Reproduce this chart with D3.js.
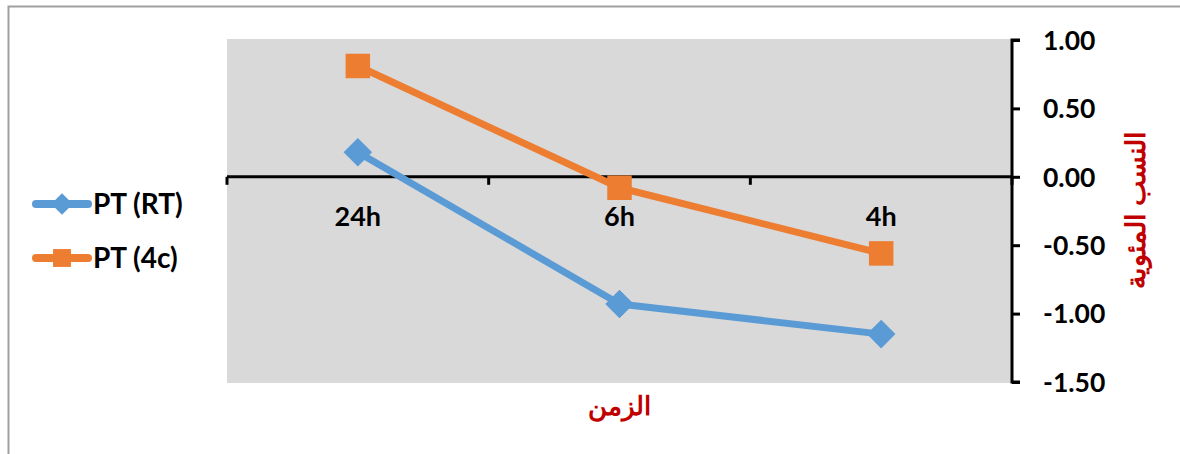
<!DOCTYPE html>
<html>
<head>
<meta charset="utf-8">
<script src="https://cdn.jsdelivr.net/npm/d3@7"></script>
<style>
  html, body { margin: 0; padding: 0; background: #fff; }
  svg { display: block; }
  text { font-family: "Lato", "Open Sans", sans-serif; font-weight: bold; }
</style>
</head>
<body>
<svg id="chart" width="1180" height="454"></svg>
<script>
// Time points (category axis) and the two series, in percent
const categories = ["24h", "6h", "4h"];
const seriesNames = ["PT (RT)", "PT (4c)"];
const ptRT = [0.18, -0.93, -1.15];
const pt4c = [0.81, -0.08, -0.56];
const yTicks = [1.0, 0.5, 0.0, -0.5, -1.0, -1.5];
const xTitle = "الزمن";
const yTitle = "النسب المئوية";

const colors = ["#5b9bd5", "#ed7d31"];
const svg = d3.select("#chart");

// Outer chart border
svg.append("rect")
  .attr("x", 8.5).attr("y", 6.5).attr("width", 1200).attr("height", 470)
  .attr("fill", "none").attr("stroke", "#a0a0a0").attr("stroke-width", 2);

const plot = { left: 227, right: 1012, top: 39, bottom: 383 };

const x = d3.scaleBand().domain(categories).range([plot.left, plot.right]);
const y = d3.scaleLinear().domain([-1.5, 1.0]).range([382, 40]);

// Plot area background
svg.append("rect")
  .attr("x", plot.left).attr("y", plot.top)
  .attr("width", plot.right - plot.left).attr("height", plot.bottom - plot.top)
  .attr("fill", "#d9d9d9");

// Category axis along zero
const xAxisG = svg.append("g").attr("transform", `translate(0,${y(0)})`);
xAxisG.append("line")
  .attr("x1", plot.left).attr("x2", plot.right)
  .attr("stroke", "#000").attr("stroke-width", 3);
const bounds = [plot.left].concat(categories.map(c => x(c) + x.bandwidth()));
xAxisG.selectAll("line.tick").data(bounds).join("line")
  .attr("class", "tick")
  .attr("x1", d => d).attr("x2", d => d)
  .attr("y1", 0).attr("y2", 8)
  .attr("stroke", "#000").attr("stroke-width", 3);
xAxisG.selectAll("text").data(categories).join("text")
  .attr("x", d => x(d) + x.bandwidth() / 2)
  .attr("y", 49)
  .attr("text-anchor", "middle")
  .attr("font-size", 27)
  .attr("fill", "#000")
  .text(d => d);

// Value axis on the right
const yAxis = d3.axisRight(y).tickValues(yTicks).tickSize(8).tickFormat(d3.format(".2f"));
const yAxisG = svg.append("g").attr("transform", `translate(${plot.right},0)`).call(yAxis);
yAxisG.select(".domain").attr("stroke", "#000").attr("stroke-width", 3)
  .attr("d", `M8,${y(1.0)}H0V${y(-1.5)}H8`);
yAxisG.selectAll(".tick line").attr("stroke", "#000").attr("stroke-width", 3);
yAxisG.selectAll(".tick text")
  .attr("x", 31).attr("dy", "0.35em")
  .attr("font-size", 26.5)
  .attr("font-family", "Lato, sans-serif").attr("font-weight", "bold")
  .attr("fill", "#000")
  .text(d => d3.format(".2f")(d).replace("−", "-"));

// Series lines and markers
const allSeries = [ptRT, pt4c];
const line = d3.line().x((d, i) => x(categories[i]) + x.bandwidth() / 2).y(d => y(d));
allSeries.forEach((vals, si) => {
  svg.append("path").datum(vals)
    .attr("d", line)
    .attr("fill", "none").attr("stroke", colors[si])
    .attr("stroke-width", 7).attr("stroke-linejoin", "round").attr("stroke-linecap", "round");
  const sym = si === 0 ? d3.symbol().type(d3.symbolDiamond2).size(520) : d3.symbol().type(d3.symbolSquare).size(600);
  svg.selectAll(null).data(vals).join("path")
    .attr("transform", (d, i) => `translate(${x(categories[i]) + x.bandwidth() / 2},${y(d)})`)
    .attr("d", sym)
    .attr("fill", colors[si]);
});

// Legend
const legend = svg.append("g");
seriesNames.forEach((name, i) => {
  const ly = 204 + i * 54;
  legend.append("line")
    .attr("x1", 36).attr("x2", 88).attr("y1", ly).attr("y2", ly)
    .attr("stroke", colors[i]).attr("stroke-width", 8).attr("stroke-linecap", "round");
  const sym = i === 0 ? d3.symbol().type(d3.symbolDiamond2).size(300) : d3.symbol().type(d3.symbolSquare).size(320);
  legend.append("path").attr("transform", `translate(62,${ly})`).attr("d", sym).attr("fill", colors[i]);
  legend.append("text")
    .attr("x", 93).attr("y", ly).attr("dy", "0.35em")
    .attr("font-size", 28).attr("fill", "#000")
    .text(name);
});

// Axis titles
svg.append("text")
  .attr("x", 619).attr("y", 406).attr("dy", "0.35em")
  .attr("text-anchor", "middle")
  .attr("font-family", "'Noto Sans', 'DejaVu Sans', sans-serif")
  .attr("font-size", 26).attr("fill", "#c00000")
  .text(xTitle);

svg.append("text")
  .attr("transform", "translate(1136,210) rotate(-90)")
  .attr("text-anchor", "middle").attr("dy", "0.35em")
  .attr("font-family", "'Noto Sans', 'DejaVu Sans', sans-serif")
  .attr("font-size", 27).attr("fill", "#c00000")
  .text(yTitle);
</script>
</body>
</html>
